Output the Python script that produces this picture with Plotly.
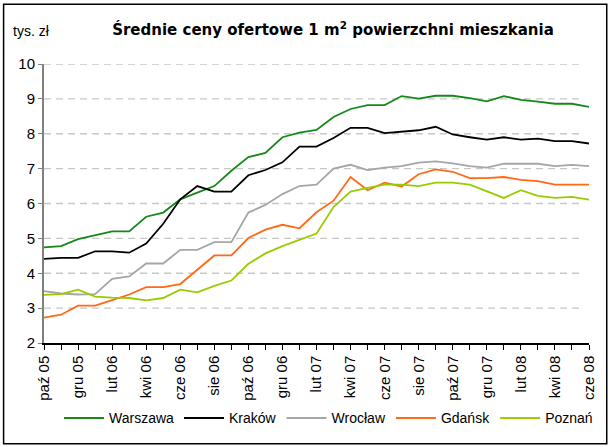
import plotly.graph_objects as go

months = ["paź 05", "lis 05", "gru 05", "sty 06", "lut 06", "mar 06", "kwi 06", "maj 06",
          "cze 06", "lip 06", "sie 06", "wrz 06", "paź 06", "lis 06", "gru 06", "sty 07",
          "lut 07", "mar 07", "kwi 07", "maj 07", "cze 07", "lip 07", "sie 07", "wrz 07",
          "paź 07", "lis 07", "gru 07", "sty 08", "lut 08", "mar 08", "kwi 08", "maj 08",
          "cze 08"]

warszawa = [4.74, 4.78, 4.98, 5.10, 5.20, 5.20, 5.62, 5.74, 6.12, 6.31, 6.50, 6.94, 7.33,
            7.45, 7.90, 8.03, 8.11, 8.48, 8.71, 8.82, 8.82, 9.08, 9.01, 9.09, 9.09, 9.02,
            8.93, 9.08, 8.97, 8.92, 8.86, 8.86, 8.77]
krakow = [4.41, 4.44, 4.44, 4.63, 4.63, 4.59, 4.85, 5.42, 6.12, 6.50, 6.34, 6.34, 6.81,
          6.96, 7.18, 7.63, 7.63, 7.88, 8.17, 8.17, 8.02, 8.05, 8.10, 8.20, 7.98, 7.90,
          7.83, 7.90, 7.83, 7.86, 7.79, 7.79, 7.72]
wroclaw = [3.49, 3.42, 3.39, 3.40, 3.84, 3.91, 4.28, 4.28, 4.67, 4.67, 4.89, 4.89, 5.74,
           5.96, 6.27, 6.50, 6.54, 7.00, 7.11, 6.96, 7.03, 7.07, 7.17, 7.21, 7.15, 7.07,
           7.03, 7.14, 7.14, 7.14, 7.07, 7.11, 7.07]
gdansk = [2.73, 2.81, 3.07, 3.07, 3.23, 3.39, 3.60, 3.60, 3.69, 4.11, 4.51, 4.51, 5.01,
          5.25, 5.39, 5.29, 5.75, 6.08, 6.76, 6.38, 6.60, 6.49, 6.84, 6.98, 6.91, 6.73,
          6.73, 6.76, 6.68, 6.64, 6.54, 6.54, 6.54]
poznan = [3.38, 3.40, 3.53, 3.33, 3.30, 3.29, 3.22, 3.29, 3.53, 3.45, 3.64, 3.79, 4.27,
          4.57, 4.78, 4.95, 5.14, 5.90, 6.34, 6.45, 6.54, 6.54, 6.50, 6.60, 6.60, 6.54,
          6.35, 6.16, 6.38, 6.22, 6.16, 6.19, 6.11]

series_names = ["Warszawa", "Kraków", "Wrocław", "Gdańsk", "Poznań"]
series_values = [warszawa, krakow, wroclaw, gdansk, poznan]
colors = ["#14891a", "#000000", "#a6a6a6", "#ff6a13", "#99cc00"]

y_ticks = [2, 3, 4, 5, 6, 7, 8, 9, 10]

x = list(range(len(months)))

FONT = "Liberation Sans, Arial, sans-serif"

fig = go.Figure()
for name, vals, col in zip(series_names, series_values, colors):
    fig.add_trace(go.Scatter(x=x, y=vals, mode="lines", name=name,
                             line=dict(color=col, width=1.8)))

W, H = 610, 447
L, R, T, B = 44, 13, 64, 98
pw, ph = W - L - R, H - T - B

def px_to_paper_x(px):
    return (px - L) / pw

def px_to_paper_y(py):
    return (H - B - py) / ph

grid_shapes = [dict(type="line", xref="paper", yref="y", x0=0, x1=px_to_paper_x(590),
                    y0=v, y1=v, layer="below",
                    line=dict(color="#c8c8c8", width=1.3, dash="7px,5px"))
               for v in y_ticks[1:]]

border = dict(type="rect", xref="paper", yref="paper",
              x0=px_to_paper_x(3), x1=px_to_paper_x(615),
              y0=px_to_paper_y(452), y1=px_to_paper_y(3),
              line=dict(color="black", width=1.5), layer="below")

fig.update_layout(
    width=W, height=H,
    margin=dict(l=L, r=R, t=T, b=B),
    paper_bgcolor="white", plot_bgcolor="white",
    font=dict(family=FONT, color="black", size=14),
    showlegend=True,
    legend=dict(orientation="h", x=0.522, xanchor="center",
                y=px_to_paper_y(426), yanchor="middle",
                font=dict(size=14), itemwidth=40, tracegroupgap=0,
                bgcolor="rgba(0,0,0,0)"),
    title=dict(text="Średnie ceny ofertowe 1 m<sup>2</sup> powierzchni mieszkania",
               x=333 / W, xanchor="center", xref="container",
               y=1 - 30 / H, yanchor="middle", yref="container",
               font=dict(size=15, family="DejaVu Sans, sans-serif",
                         color="black", weight="bold")),
    xaxis=dict(range=[0, len(months) - 1], tickmode="array",
               tickvals=x[::2], ticktext=months[::2], tickangle=-90,
               showline=True, linecolor="black", linewidth=1.5,
               ticks="outside", ticklen=5, tickcolor="black", tickwidth=1,
               minor=dict(dtick=1, ticks="outside", ticklen=5, tickcolor="black"),
               showgrid=False, zeroline=False, tickfont=dict(size=15)),
    yaxis=dict(range=[2, 10], tickvals=y_ticks, showline=True, linecolor="#808080",
               linewidth=2, ticks="outside", ticklen=4, tickcolor="#808080",
               showgrid=False, zeroline=False, tickfont=dict(size=15)),
    annotations=[dict(text="tys. zł", x=px_to_paper_x(11), xanchor="left",
                      y=px_to_paper_y(30), yanchor="middle", xref="paper", yref="paper",
                      showarrow=False, font=dict(size=14))],
    shapes=grid_shapes + [border],
)

fig.write_html("out.html", config={"displayModeBar": False},
               post_script="document.body.style.margin='0';document.body.style.overflow='hidden';")
